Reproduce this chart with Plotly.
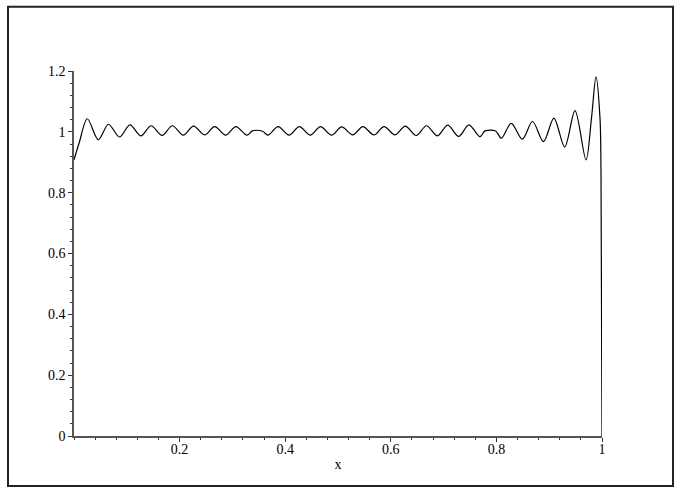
import plotly.graph_objects as go

# Curve values (extrema and a few shape points)
x_vals = [0.000, 0.0100, 0.0252, 0.0460, 0.0653, 0.0862, 0.1059, 0.1267, 0.1460, 0.1669,
          0.1862, 0.2070, 0.2263, 0.2472, 0.2665, 0.2873, 0.3066, 0.3275, 0.3380,
          0.3570, 0.3674, 0.3866, 0.4074, 0.4267, 0.4475, 0.4669, 0.4877, 0.5070,
          0.5278, 0.5472, 0.5680, 0.5873, 0.6081, 0.6275, 0.6483, 0.6676, 0.6884,
          0.7078, 0.7286, 0.7479, 0.7688, 0.7784, 0.7987, 0.8093, 0.8282, 0.8490,
          0.8684, 0.8892, 0.9089, 0.9294, 0.9489, 0.9697, 0.9801, 0.9886, 0.9962,
          0.9981, 1.0000]
y_vals = [0.908, 0.965, 1.043, 0.974, 1.025, 0.983, 1.023, 0.987, 1.020, 0.988,
          1.020, 0.989, 1.019, 0.990, 1.017, 0.989, 1.017, 0.989, 1.003,
          1.002, 0.989, 1.017, 0.989, 1.017, 0.989, 1.017, 0.989, 1.016,
          0.990, 1.017, 0.990, 1.017, 0.990, 1.019, 0.988, 1.020, 0.987,
          1.022, 0.985, 1.023, 0.984, 1.003, 1.003, 0.979, 1.028, 0.976,
          1.034, 0.968, 1.045, 0.950, 1.070, 0.908, 1.045, 1.181, 1.045,
          0.870, 0.000]

x_tickvals = [0.2, 0.4, 0.6, 0.8, 1.0]
x_ticktext = ["0.2", "0.4", "0.6", "0.8", "1"]
y_tickvals = [0, 0.2, 0.4, 0.6, 0.8, 1.0, 1.2]
y_ticktext = ["0", "0.2", "0.4", "0.6", "0.8", "1", "1.2"]

fig = go.Figure()
fig.add_trace(go.Scatter(
    x=x_vals, y=y_vals, mode="lines",
    line=dict(color="black", width=1.2, shape="spline", smoothing=0.9),
    showlegend=False, hoverinfo="skip"))

font = dict(family="Liberation Serif, Times New Roman, serif", size=14, color="black")

fig.update_layout(
    width=682, height=496,
    margin=dict(l=74, r=80, t=71, b=60, autoexpand=False),
    paper_bgcolor="white", plot_bgcolor="white",
    font=font,
    xaxis=dict(range=[0, 1], tickmode="array", tickvals=x_tickvals, ticktext=x_ticktext,
               showgrid=False, zeroline=False, showline=True, linecolor="#555", linewidth=1.5,
               ticks="outside", ticklen=4, tickcolor="#333", tickfont=font,
               ticklabelstandoff=-5,
               minor=dict(tickmode="linear", tick0=0, dtick=0.04, ticks="outside",
                          ticklen=2, tickcolor="#333"),
               title=dict(text="x", font=font, standoff=4)),
    yaxis=dict(range=[0, 1.2], tickmode="array", tickvals=y_tickvals, ticktext=y_ticktext,
               showgrid=False, zeroline=False, showline=True, linecolor="#555", linewidth=1.5,
               ticks="outside", ticklen=4, tickcolor="#333", tickfont=font,
               minor=dict(tickmode="linear", tick0=0, dtick=0.04, ticks="outside",
                          ticklen=2, tickcolor="#333")),
    shapes=[dict(type="rect", xref="paper", yref="paper",
                 x0=-0.125, x1=1.1345, y0=-0.137, y1=1.176,
                 line=dict(color="#222", width=2), fillcolor="rgba(0,0,0,0)", layer="below")],
)

fig.write_html("out.html", config={"displayModeBar": False},
               post_script="document.body.style.margin='0';")
